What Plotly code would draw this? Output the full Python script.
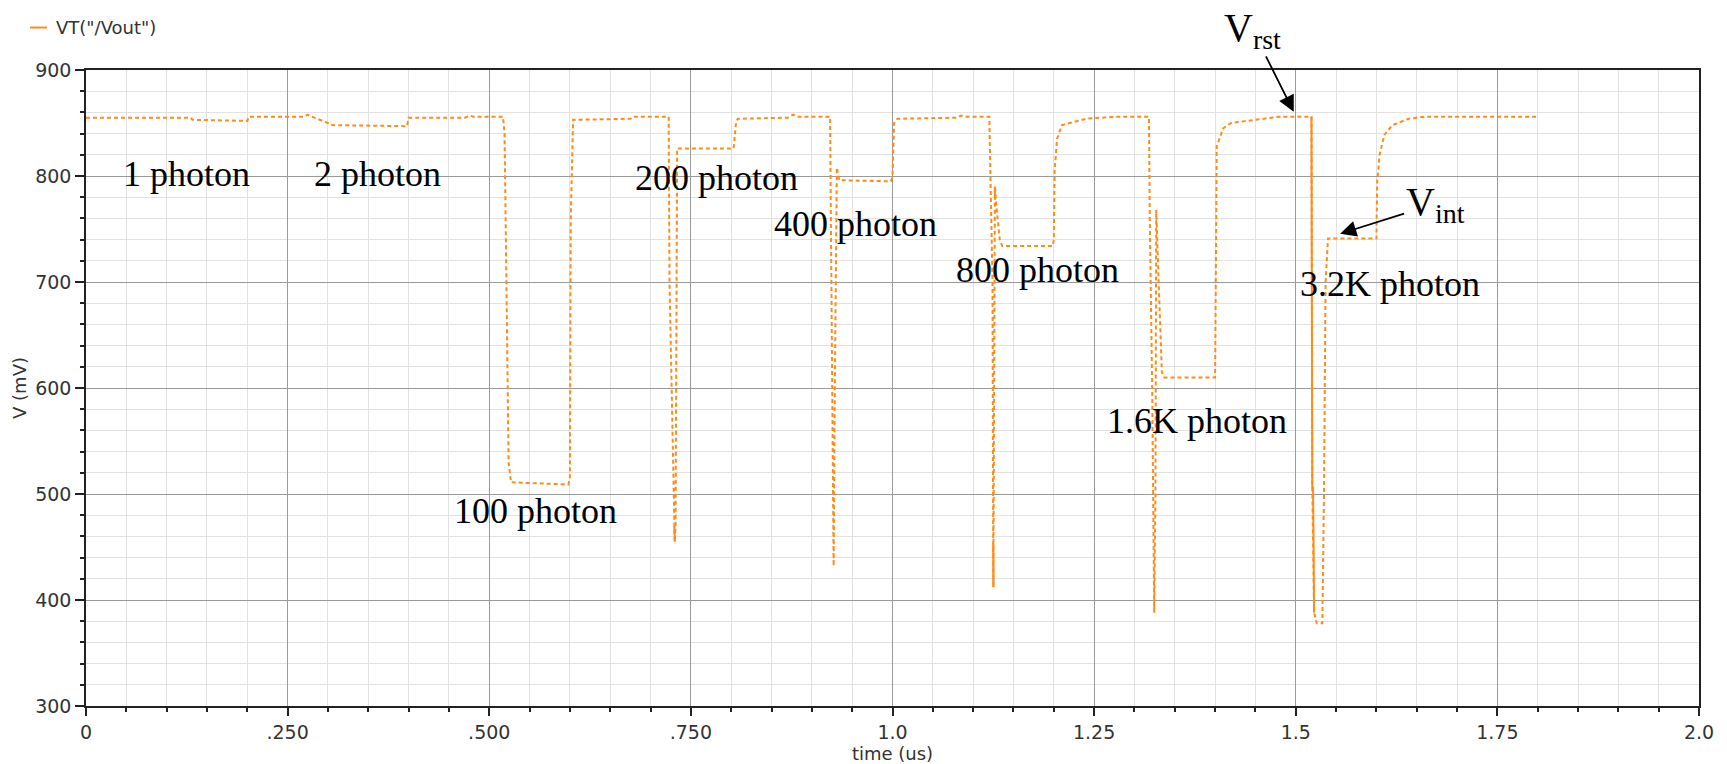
import plotly.graph_objects as go

# ---- data (time in us, voltage in mV) ----
time_us = [0.000, 0.130, 0.132, 0.200, 0.202, 0.270, 0.275, 0.280, 0.300, 0.305, 0.398, 0.400,
           0.470, 0.476, 0.480, 0.517, 0.519, 0.524, 0.527, 0.598, 0.600, 0.601, 0.604, 0.675,
           0.678, 0.7225, 0.7235, 0.729, 0.7300, 0.7310, 0.7330, 0.803, 0.806, 0.808, 0.870,
           0.877, 0.882, 0.9226, 0.925, 0.927, 0.9285, 0.931, 0.934, 0.998, 1.000, 1.002,
           1.006, 1.080, 1.085, 1.090, 1.120, 1.1215, 1.124, 1.1250, 1.1262, 1.1270, 1.129,
           1.133, 1.136, 1.199, 1.200, 1.201, 1.204, 1.210, 1.240, 1.278, 1.318, 1.319,
           1.322, 1.3245, 1.3260, 1.3270, 1.330, 1.334, 1.337, 1.400, 1.402, 1.410, 1.420,
           1.456, 1.480, 1.5195, 1.5205, 1.5228, 1.526, 1.533, 1.535, 1.537, 1.540, 1.600,
           1.601, 1.604, 1.610, 1.620, 1.640, 1.660, 1.800]
vout_mV = [855, 855, 853, 852, 856, 856, 858, 856, 850, 848, 847, 855,
           855, 857, 856, 856, 840, 530, 511, 509, 515, 760, 853, 854,
           856, 856, 700, 470, 455, 470, 826, 826, 850, 854, 855,
           858, 856, 856, 600, 432, 600, 808, 796, 795, 800, 850,
           854, 855, 857, 856, 856, 780, 700, 412, 600, 790, 770,
           740, 734, 734, 740, 805, 835, 848, 854, 856, 856, 760,
           600, 388, 500, 768, 700, 615, 610, 610, 828, 845, 850,
           854, 856, 856, 506, 388, 378, 378, 500, 700, 741, 741,
           795, 820, 839, 848, 854, 856, 856]

# segments where the trace renders as a continuous (solid) line
solid_time_us = [0.7295, 0.7300, None, 1.1250, 1.1252, None, 1.1268, 1.1270, None,
                 1.5195, 1.5205, 1.5215, 1.5228]
solid_vout_mV = [470, 455, None, 453, 412, None, 790, 778, None,
                 856, 506, 506, 388]

x_tick_vals = [0, 0.25, 0.5, 0.75, 1.0, 1.25, 1.5, 1.75, 2.0]
x_tick_text = ["0", ".250", ".500", ".750", "1.0", "1.25", "1.5", "1.75", "2.0"]
y_tick_vals = [300, 400, 500, 600, 700, 800, 900]

photon_labels = ["1 photon", "2 photon", "100 photon", "200 photon", "400 photon",
                 "800 photon", "1.6K photon", "3.2K photon"]
photon_label_t = [0.044, 0.280, 0.454, 0.678, 0.851, 1.076, 1.263, 1.503]
photon_label_v = [802, 802, 484, 798, 755, 711, 569, 698]

ORANGE = "#ff8c1a"
TICKCOL = "#333333"

# page body has an 8px default margin; compensate so the plot box lands at
# x 86..1699, y 69.5..706 in the 1727x764 window
PW = 1613.0
PH = 636.5

fig = go.Figure()
fig.add_trace(go.Scatter(x=time_us, y=vout_mV, mode="lines", showlegend=False,
                         line=dict(color=ORANGE, width=2, dash="4px,3px")))
fig.add_trace(go.Scatter(x=solid_time_us, y=solid_vout_mV, mode="lines", showlegend=False,
                         line=dict(color=ORANGE, width=2)))

annotations = []
for txt, t, v in zip(photon_labels, photon_label_t, photon_label_v):
    annotations.append(dict(x=t, y=v, xref="x", yref="y", text=txt, showarrow=False,
                            xanchor="left", yanchor="middle",
                            font=dict(family="Liberation Serif", size=36, color="black")))

# V_rst and V_int callouts
annotations.append(dict(x=1.4975, y=860.5, xref="x", yref="y", text="V<sub>rst</sub>",
                        showarrow=True, ax=-41, ay=-82, arrowhead=2, arrowsize=1.8,
                        arrowwidth=1.8, arrowcolor="black", standoff=0,
                        font=dict(family="Liberation Serif", size=40, color="black")))
annotations.append(dict(x=1.555, y=745.5, xref="x", yref="y", text="V<sub>int</sub>",
                        showarrow=True, ax=95, ay=-30, arrowhead=2, arrowsize=1.8,
                        arrowwidth=1.8, arrowcolor="black", standoff=0,
                        font=dict(family="Liberation Serif", size=40, color="black")))

# legend-like label at top-left
annotations.append(dict(x=(54 - 86) / PW, y=(706 - 27) / PH, xref="paper", yref="paper",
                        text='VT("/Vout")', showarrow=False, xanchor="left", yanchor="middle",
                        font=dict(family="DejaVu Sans", size=18, color=TICKCOL)))
shapes = [dict(type="line", xref="paper", yref="paper",
               x0=(30 - 86) / PW, x1=(47 - 86) / PW,
               y0=(706 - 27) / PH, y1=(706 - 27) / PH,
               line=dict(color=ORANGE, width=2))]

axis_common = dict(showline=True, linecolor="#222222", linewidth=1.5, mirror=True,
                   ticks="outside", tickcolor="#222222", tickwidth=1.5,
                   showgrid=True, gridcolor="#9a9a9a", gridwidth=1.2, zeroline=False,
                   tickfont=dict(family="DejaVu Sans", size=19, color=TICKCOL))

fig.update_layout(
    width=1727, height=764,
    margin=dict(l=78, r=36, t=61.5, b=66),
    paper_bgcolor="white", plot_bgcolor="white",
    xaxis=dict(range=[0, 2.0], tickmode="array", tickvals=x_tick_vals, ticktext=x_tick_text,
               ticklen=8,
               minor=dict(dtick=0.05, tick0=0, ticklen=4, tickcolor="#222222",
                          showgrid=True, gridcolor="#e2e2e2", gridwidth=1.2),
               title=dict(text="time (us)", standoff=3,
                          font=dict(family="DejaVu Sans", size=18, color=TICKCOL)),
               **axis_common),
    yaxis=dict(range=[300, 900], tickmode="array", tickvals=y_tick_vals, ticklen=9,
               minor=dict(dtick=20, tick0=300, ticklen=4, tickcolor="#222222",
                          showgrid=True, gridcolor="#e2e2e2", gridwidth=1.2),
               title=dict(text="V (mV)", standoff=4,
                          font=dict(family="DejaVu Sans", size=18, color=TICKCOL)),
               **axis_common),
    annotations=annotations,
    shapes=shapes,
    showlegend=False,
)

fig.write_html("out.html")
